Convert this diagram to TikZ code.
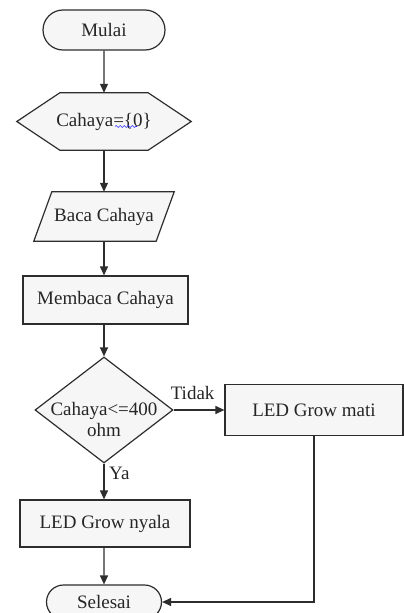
\documentclass[tikz,border=0pt]{standalone}
\usepackage{fontspec}
\setmainfont{Liberation Serif}
\usetikzlibrary{shapes.geometric,shapes.misc,arrows.meta,backgrounds,decorations.pathmorphing}
\definecolor{isi}{RGB}{246,246,246}
\definecolor{garis}{RGB}{45,45,45}
\tikzset{
  dasar/.style={draw=garis,fill=isi,line width=1.2pt,font=\fontsize{19}{21}\selectfont,text=black!85},
  term/.style={dasar,rounded rectangle,minimum width=122pt,minimum height=40pt,inner sep=0pt},
  proses/.style={dasar,rectangle,inner sep=0pt},
  cabang/.style={dasar,diamond,minimum width=138pt,minimum height=106pt,inner sep=0pt},
  bentuk/.style={draw=garis,fill=isi,line width=1.2pt},
  alur/.style={line width=1.2pt,draw=garis,-{Triangle[length=9pt,width=8pt]}},
  teks/.style={font=\fontsize{19}{21}\selectfont,text=black!85,inner sep=0pt}
}
\begin{document}
\begin{tikzpicture}[x=1pt,y=-1pt]
		\useasboundingbox (0,0) rectangle (404,613);
		%节点
		\draw (104,30) node[term](mulai){Mulai};
		\draw (104,121.5) node[teks,minimum width=174pt,minimum height=57pt](awal){Cahaya=\{0\}};
		\draw (104,216.5) node[teks,minimum width=122pt,minimum height=49pt](baca){Baca Cahaya};
		\draw (105.5,300) node[proses,minimum width=165pt,minimum height=48pt](proses){Membaca Cahaya};
		\draw (104,410) node[cabang](cek){};
		\draw (104,410) node[teks,align=center,yshift=-9pt](syarat){Cahaya<=400\\ohm};
		\draw (314,410) node[proses,minimum width=178pt,minimum height=51pt](mati){LED Grow mati};
		\draw (105,523.5) node[proses,minimum width=170pt,minimum height=47pt](nyala){LED Grow nyala};
		\draw (104,602) node[term,minimum width=115pt,minimum height=34pt](selesai){Selesai};
		%六边形与平行四边形
		\begin{scope}[on background layer]
		\filldraw[bentuk] (awal.west) -- ([xshift=43pt]awal.north west) -- ([xshift=-43pt]awal.north east)
			-- (awal.east) -- ([xshift=-43pt]awal.south east) -- ([xshift=43pt]awal.south west) -- cycle;
		\filldraw[bentuk] ([xshift=9pt]baca.north west) -- ([xshift=9pt]baca.north east)
			-- ([xshift=-9pt]baca.south east) -- ([xshift=-9pt]baca.south west) -- cycle;
		\end{scope}
		\draw[blue!80,line width=0.6pt,decorate,decoration={snake,amplitude=1pt,segment length=4pt}] (115,126.5) -- (137,126.5);
		%连线
		\draw[alur] (mulai) -- (awal);
		\draw[alur] (awal) -- (baca);
		\draw[alur] (baca) -- (baca |- proses.north);
		\draw[alur] (proses.south -| cek.north) -- (cek);
		\draw[alur] (cek) -- (mati);
		\draw[alur] (cek.south) -- (cek.south |- nyala.north);
		\draw[alur] (nyala.south -| selesai.north) -- (selesai);
		\draw[alur] (mati.south) |- (selesai.east);
		%标签
		\draw ([xshift=-3pt,yshift=10pt]cek.east) node[teks,anchor=south west](tidak){Tidak};
		\draw ([xshift=5pt,yshift=-3pt]cek.south) node[teks,anchor=north west](ya){Ya};
	\end{tikzpicture}
\end{document}
